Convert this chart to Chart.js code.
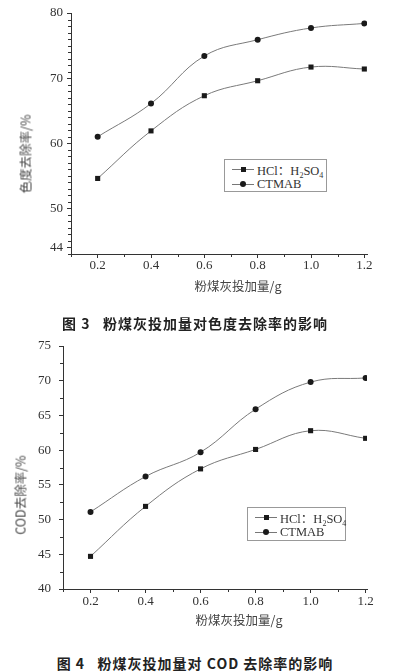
<!DOCTYPE html>
<html>
<head>
<meta charset="utf-8">
<script src="https://cdn.jsdelivr.net/npm/chart.js@4"></script>
<style>
body{margin:0;background:#fff;width:396px;height:672px;position:relative;overflow:hidden;font-family:'Liberation Serif','Noto Sans CJK SC',serif;color:#333}
.wrap{position:absolute;left:0;width:396px;height:280px}
canvas{display:block}
.ytitle,.xtitle,.caption{position:absolute;white-space:pre;font-family:'Noto Sans CJK SC',sans-serif}
.ytitle{transform:translate(-50%,-50%) rotate(-90deg);font-size:12.5px;color:#444}
.xtitle{transform:translate(-50%,-50%);font-size:12.5px;color:#444}
.caption{transform:translate(-50%,-50%);font-size:14px;font-weight:bold;color:#222;letter-spacing:1px}
.legend{position:absolute;box-sizing:border-box;border:1px solid #999;background:#fff;padding-top:2px;font-size:12.5px;color:#333;white-space:nowrap}
.row{height:15px;display:flex;align-items:center;white-space:nowrap}
.key{position:relative;flex:none;width:22px;height:1px;background:#777;margin:0 3px 0 7px}
.key i{position:absolute;left:9px;top:-2.5px;width:5px;height:5px;background:#1a1a1a}
.key i.dot{border-radius:50%;width:6px;height:6px;top:-3px;left:8px}
sub{font-size:8px;vertical-align:-3px;line-height:0}
</style>
</head>
<body>
<div class="wrap" style="top:0"><canvas id="chart1" width="396" height="280"></canvas></div>
<div class="ytitle" style="left:25px;top:154px">色度去除率/%</div>
<div class="xtitle" style="left:238px;top:285px">粉煤灰投加量/g</div>
<div class="caption" style="left:195px;top:323px">图 3   粉煤灰投加量对色度去除率的影响</div>
<div class="legend" style="left:224px;top:159px;width:103px;height:33px">
  <div class="row"><span class="key"><i></i></span><span>HCl：H<sub>2</sub>SO<sub>4</sub></span></div>
  <div class="row"><span class="key"><i class="dot"></i></span><span>CTMAB</span></div>
</div>

<div class="wrap" style="top:330px"><canvas id="chart2" width="396" height="280"></canvas></div>
<div class="ytitle" style="left:20px;top:495px">COD去除率/%</div>
<div class="xtitle" style="left:239px;top:619px">粉煤灰投加量/g</div>
<div class="caption" style="left:195px;top:663px">图 4   粉煤灰投加量对 COD 去除率的影响</div>
<div class="legend" style="left:247px;top:507px;width:99px;height:34px">
  <div class="row"><span class="key"><i></i></span><span>HCl：H<sub>2</sub>SO<sub>4</sub></span></div>
  <div class="row"><span class="key"><i class="dot"></i></span><span>CTMAB</span></div>
</div>

<script>
// 粉煤灰投加量 (g)
const doses = [0.2, 0.4, 0.6, 0.8, 1.0, 1.2];
const seriesNames = ['HCl：H2SO4', 'CTMAB'];

// 图3 色度去除率 (%)
const colorHcl = [54.6, 61.9, 67.3, 69.6, 71.7, 71.4];
const colorCtmab = [61.0, 66.1, 73.4, 75.9, 77.7, 78.4];

// 图4 COD去除率 (%)
const codHcl = [44.7, 51.9, 57.3, 60.1, 62.8, 61.7];
const codCtmab = [51.1, 56.2, 59.7, 65.9, 69.8, 70.4];

const xTicks = [0.2, 0.4, 0.6, 0.8, 1.0, 1.2];
const xTickLabels = ['0.2', '0.4', '0.6', '0.8', '1.0', '1.2'];
const colorYTicks = [44, 50, 60, 70, 80];
const codYTicks = [40, 45, 50, 55, 60, 65, 70, 75];

const axisColor = '#333';
const tickFont = {family: 'Liberation Serif', size: 13};

// small outward ticks between the labelled ones
const minorTicks = {
  id: 'minorTicks',
  afterDraw(chart, args, opts) {
    const ctx = chart.ctx;
    const xs = chart.scales.x, ys = chart.scales.y;
    const area = chart.chartArea;
    ctx.save();
    ctx.strokeStyle = axisColor;
    ctx.lineWidth = 1;
    ctx.beginPath();
    for (let i = 0; ; i++) {
      const v = opts.xStart + i * opts.xStep;
      if (v > xs.max + 1e-9) break;
      const px = Math.round(xs.getPixelForValue(v)) + 0.5;
      ctx.moveTo(px, area.bottom);
      ctx.lineTo(px, area.bottom + 3);
    }
    for (let i = 0; ; i++) {
      const v = opts.yStart + i * opts.yStep;
      if (v > ys.max + 1e-9) break;
      if (opts.yMajor.some(m => Math.abs(m - v) < 1e-6)) continue;
      const py = Math.round(ys.getPixelForValue(v)) + 0.5;
      ctx.moveTo(area.left, py);
      ctx.lineTo(area.left - 3, py);
    }
    ctx.stroke();
    ctx.restore();
  }
};

function makeChart(id, hcl, ctmab, yTicks, yMin, yMax, yStep, xMax, lay) {
  const pts = arr => arr.map((v, i) => ({x: doses[i], y: v}));
  return new Chart(document.getElementById(id), {
    type: 'line',
    data: {
      datasets: [
        {
          label: seriesNames[0],
          data: pts(hcl),
          borderColor: '#7a7a7a',
          borderWidth: 1,
          tension: 0.4,
          pointStyle: 'rect',
          pointRadius: 3.6,
          pointBackgroundColor: '#1a1a1a',
          pointBorderColor: '#1a1a1a',
          pointBorderWidth: 0
        },
        {
          label: seriesNames[1],
          data: pts(ctmab),
          borderColor: '#7a7a7a',
          borderWidth: 1,
          tension: 0.4,
          pointStyle: 'circle',
          pointRadius: 3,
          pointBackgroundColor: '#1a1a1a',
          pointBorderColor: '#1a1a1a',
          pointBorderWidth: 0
        }
      ]
    },
    options: {
      responsive: false,
      animation: false,
      devicePixelRatio: 1,
      layout: {padding: {top: lay.top, right: 29, left: 0, bottom: 0}},
      plugins: {
        legend: {display: false},
        tooltip: {enabled: false},
        minorTicks: {xStart: 0.1, xStep: 0.2, yStart: yMin, yStep: yStep, yMajor: yTicks}
      },
      scales: {
        x: {
          type: 'linear',
          min: 0.1,
          max: xMax,
          afterBuildTicks: s => { s.ticks = xTicks.map(v => ({value: v})); },
          afterFit: s => { s.height = lay.xH; },
          ticks: {
            callback: (v, i) => xTickLabels[i],
            font: tickFont,
            color: '#333',
            padding: lay.xPad,
            maxRotation: 0,
            autoSkip: false
          },
          grid: {drawOnChartArea: false, tickLength: 4, color: axisColor},
          border: {color: axisColor, width: 1}
        },
        y: {
          min: yMin,
          max: yMax,
          afterBuildTicks: s => { s.ticks = yTicks.map(v => ({value: v})); },
          afterFit: s => { s.width = lay.yW; },
          ticks: {font: tickFont, color: '#333', padding: lay.yPad, autoSkip: false},
          grid: {drawOnChartArea: false, tickLength: 4, color: axisColor},
          border: {color: axisColor, width: 1}
        }
      }
    },
    plugins: [minorTicks]
  });
}

makeChart('chart1', colorHcl, colorCtmab, colorYTicks, 43, 80, 1, 1.21,
  {top: 13, yW: 71, xH: 26, yPad: 4, xPad: 0});
makeChart('chart2', codHcl, codCtmab, codYTicks, 40, 75, 2.5, 1.205,
  {top: 16, yW: 63, xH: 21, yPad: 8, xPad: 1});
</script>
</body>
</html>
